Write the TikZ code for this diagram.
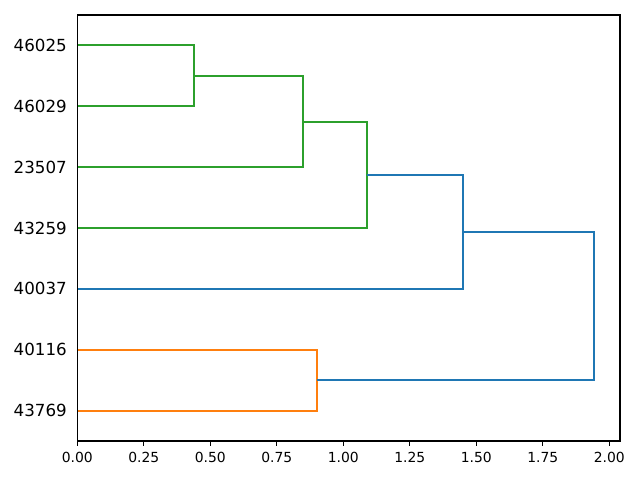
\documentclass[tikz,border=0pt]{standalone}
\usepackage{fontspec}
\setmainfont{DejaVu Sans}
\definecolor{mplblue}{HTML}{1F77B4}
\definecolor{mplorange}{HTML}{FF7F0E}
\definecolor{mplgreen}{HTML}{2CA02C}
\begin{document}
\begin{tikzpicture}[x=0.72pt,y=-0.72pt,
  link/.style={line width=1.5pt,line cap=butt,line join=miter},
  leaflabel/.style={anchor=east,inner sep=0pt,font=\fontsize{12pt}{14pt}\selectfont},
  ticklabel/.style={anchor=base,inner sep=0pt,font=\fontsize{10pt}{12pt}\selectfont},
  spine/.style={line width=0.8pt,black}]
\useasboundingbox (0,0) rectangle (640,480);
% leaves (on the y axis)
\coordinate (l1) at (77.3,45);
\coordinate (l2) at (77.3,106);
\coordinate (l3) at (77.3,167);
\coordinate (l4) at (77.3,228);
\coordinate (l5) at (77.3,289);
\coordinate (l6) at (77.3,350);
\coordinate (l7) at (77.3,411);
% merge heights
\coordinate (a) at (194,76);
\coordinate (b) at (303,122);
\coordinate (c) at (367,175);
\coordinate (d) at (463,232);
\coordinate (e) at (316.7,380);
\coordinate (f) at (594,306);
% links
\draw[link,mplgreen] (l1) -- (l1 -| a) -- (l2 -| a) -- (l2);
\draw[link,mplgreen] (a) -- (a -| b) -- (l3 -| b) -- (l3);
\draw[link,mplgreen] (b) -- (b -| c) -- (l4 -| c) -- (l4);
\draw[link,mplblue] (c) -- (c -| d) -- (l5 -| d) -- (l5);
\draw[link,mplorange] (l6) -- (l6 -| e) -- (l7 -| e) -- (l7);
\draw[link,mplblue] (d) -- (d -| f) -- (e -| f) -- (e);
% axes frame
\draw[spine] (77.3,15) rectangle (620,441);
% leaf labels
\node[leaflabel] (t1) at (67,45.4) {46025};
\node[leaflabel] (t2) at (67,106.3) {46029};
\node[leaflabel] (t3) at (67,167.1) {23507};
\node[leaflabel] (t4) at (67,228.0) {43259};
\node[leaflabel] (t5) at (67,288.9) {40037};
\node[leaflabel] (t6) at (67,349.7) {40116};
\node[leaflabel] (t7) at (67,410.6) {43769};
% x ticks
\foreach \v/\lab in {0/0.00,0.25/0.25,0.5/0.50,0.75/0.75,1/1.00,1.25/1.25,1.5/1.50,1.75/1.75,2/2.00}{
  \draw[spine] (77.3+266*\v,441) -- (77.3+266*\v,445.9);
  \node[ticklabel] at (77.3+266*\v,462.3) {\lab};
}
\end{tikzpicture}
\end{document}
